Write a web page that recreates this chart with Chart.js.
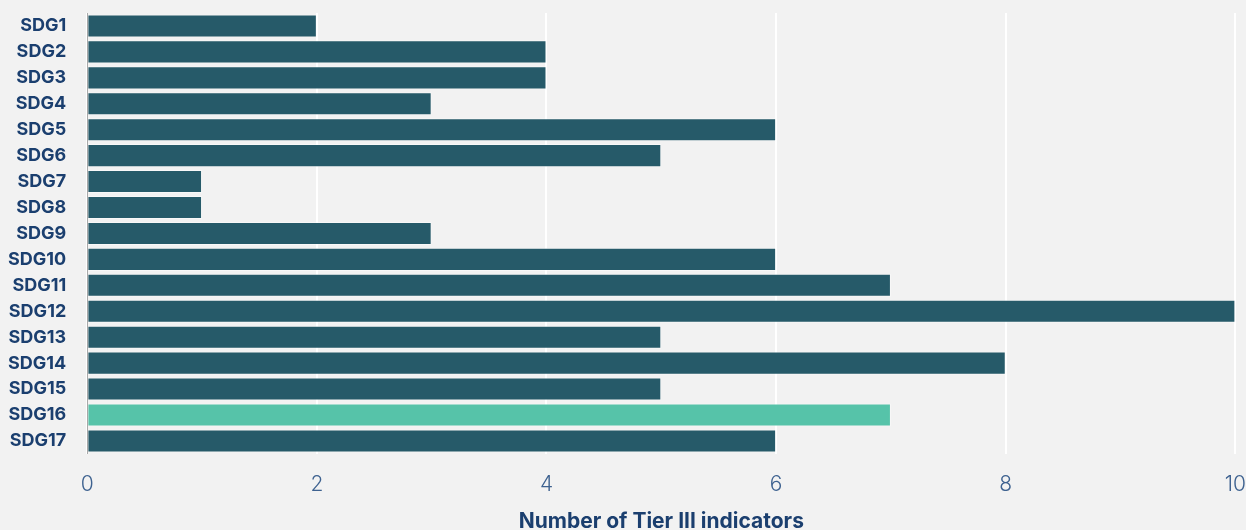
<!DOCTYPE html>
<html>
<head>
<meta charset="utf-8">
<script src="https://cdn.jsdelivr.net/npm/chart.js@4.4.1/dist/chart.umd.min.js"></script>
<style>
  html, body { margin: 0; padding: 0; background: #f2f2f2; }
  #wrap { width: 1246px; height: 530px; }
</style>
</head>
<body>
<div id="wrap"><canvas id="sdg-chart"></canvas></div>
<script>
const goals = ["SDG1", "SDG2", "SDG3", "SDG4", "SDG5", "SDG6", "SDG7", "SDG8", "SDG9",
  "SDG10", "SDG11", "SDG12", "SDG13", "SDG14", "SDG15", "SDG16", "SDG17"];
const tierThreeCounts = [2, 4, 4, 3, 6, 5, 1, 1, 3, 6, 7, 10, 5, 8, 5, 7, 6];
const highlightGoal = "SDG16";
const xTicks = [0, 2, 4, 6, 8, 10];

const barColors = goals.map(g => g === highlightGoal ? "#56c3a9" : "#265a69");

const ctx = document.getElementById("sdg-chart").getContext("2d");
new Chart(ctx, {
  type: "bar",
  data: {
    labels: goals,
    datasets: [{
      label: "Tier III indicators",
      data: tierThreeCounts,
      backgroundColor: barColors,
      borderColor: "rgba(255,255,255,0.45)",
      borderWidth: 1,
      barPercentage: 1,
      categoryPercentage: 0.89
    }]
  },
  options: {
    indexAxis: "y",
    responsive: true,
    maintainAspectRatio: false,
    animation: false,
    layout: { padding: { top: 13, right: 0, left: 8, bottom: -2 } },
    plugins: {
      legend: { display: false },
      tooltip: { enabled: false }
    },
    scales: {
      x: {
        min: 0,
        max: 10,
        afterBuildTicks: axis => { axis.ticks = xTicks.map(v => ({ value: v })); },
        // tick marks are invisible, they only make the gap under the plot
        grid: { color: "#ffffff", lineWidth: 2, drawTicks: true, tickLength: 19, tickColor: "rgba(0,0,0,0)" },
        border: { display: false },
        ticks: {
          padding: 0,
          color: "#3e6290",
          font: { family: "Inter", size: 21, weight: 300, lineHeight: 1.1 }
        },
        title: {
          display: true,
          text: "Number of Tier III indicators",
          color: "#1b3f6f",
          font: { family: "Inter", size: 21, weight: 700, lineHeight: 1 },
          padding: { top: 15, bottom: 0 }
        }
      },
      y: {
        grid: { display: false, drawTicks: true, tickLength: 21 },
        border: { display: true, color: "#a8a8a8", width: 1 },
        ticks: {
          padding: 0,
          autoSkip: false,
          color: "#1b3f6f",
          font: { family: "Inter", size: 18, weight: 700 }
        }
      }
    }
  }
});
</script>
</body>
</html>
